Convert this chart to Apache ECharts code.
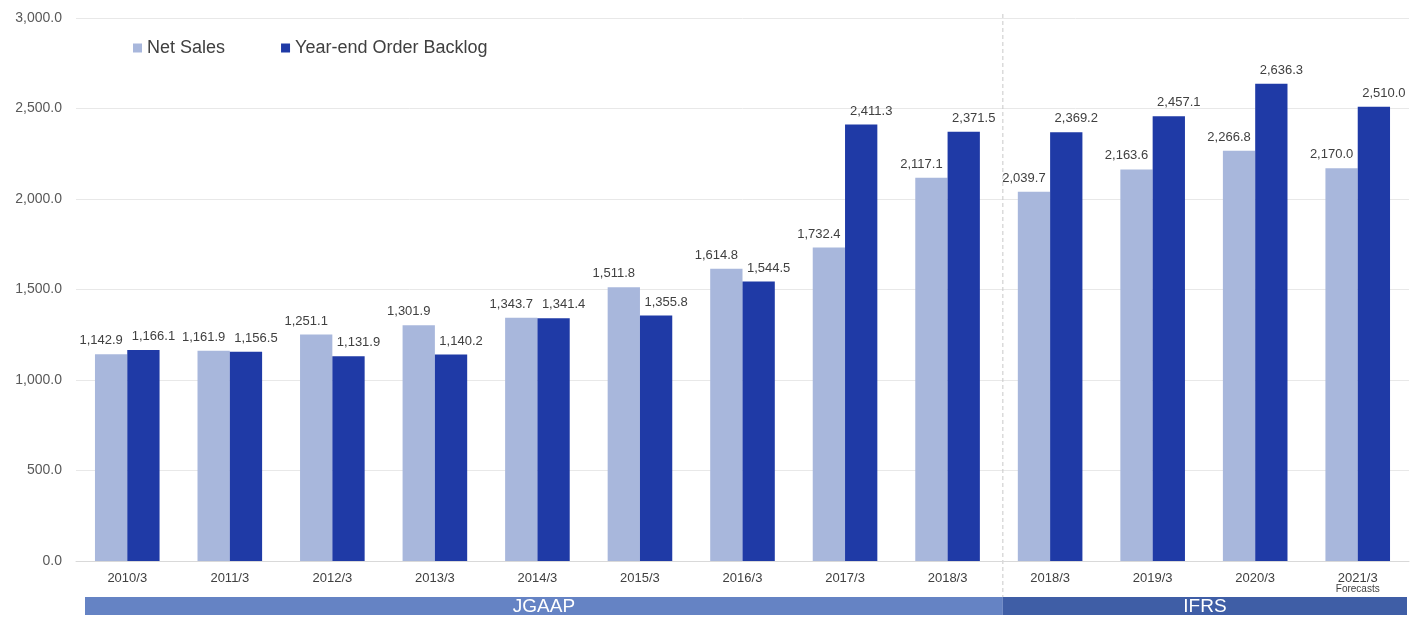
<!DOCTYPE html>
<html>
<head>
<meta charset="utf-8">
<script src="https://cdn.jsdelivr.net/npm/echarts@6/dist/echarts.min.js"></script>
<style>
html,body{margin:0;padding:0;background:#fff;}
#chart{width:1421px;height:621px;}
</style>
</head>
<body>
<div id="chart"></div>
<script>
// ---- data ----
const categories = ['2010/3','2011/3','2012/3','2013/3','2014/3','2015/3','2016/3','2017/3','2018/3','2018/3 IFRS','2019/3','2020/3','2021/3'];
const netSales = [1142.9,1161.9,1251.1,1301.9,1343.7,1511.8,1614.8,1732.4,2117.1,2039.7,2163.6,2266.8,2170.0];
const orderBacklog = [1166.1,1156.5,1131.9,1140.2,1341.4,1355.8,1544.5,2411.3,2371.5,2369.2,2457.1,2636.3,2510.0];
const yTicks = [0,500,1000,1500,2000,2500,3000];
const bandNames = ['JGAAP','IFRS'];
const bandStart = [0, 9];
const bandEnd = [8, 12];
const forecastCategory = '2021/3';

const fmt = v => Number(v).toLocaleString('en-US',{minimumFractionDigits:1,maximumFractionDigits:1});

const chart = echarts.init(document.getElementById('chart'));
const font = 'Liberation Sans, Arial, sans-serif';
const option = {
  animation:false,
  textStyle:{fontFamily:font},
  legend:{
    left:128, top:34,
    itemWidth:9, itemHeight:9, itemGap:56,
    icon:'rect',
    textStyle:{fontSize:18,color:'#404040',fontFamily:font},
    data:['Net Sales','Year-end Order Backlog']
  },
  grid:{left:76,right:12,top:18,bottom:60,containLabel:false},
  xAxis:{
    type:'category',
    data:categories,
    axisLine:{lineStyle:{color:'#d9d9d9'}},
    axisTick:{show:false},
    axisLabel:{
      interval:0,
      color:'#404040',fontSize:13,fontFamily:font,margin:11,
      formatter:v=>{
        const s=v.split(' ')[0];
        return s===forecastCategory ? s+'\n{f|Forecasts}' : s;
      },
      rich:{f:{fontSize:10,color:'#404040',fontFamily:font,lineHeight:9}}
    }
  },
  yAxis:{
    type:'value',min:yTicks[0],max:yTicks[yTicks.length-1],interval:500,
    axisLine:{show:false},axisTick:{show:false},
    splitLine:{lineStyle:{color:'#e8e8e8'}},
    axisLabel:{color:'#595959',fontSize:14,fontFamily:font,margin:14,formatter:v=>fmt(v)}
  },
  series:[
    {name:'Net Sales',type:'bar',data:netSales,barGap:'0%',barCategoryGap:'37%',
     itemStyle:{color:'#a8b7dc'},
     label:{show:true,position:'top',distance:7,offset:[-10,0],color:'#404040',fontSize:13,fontFamily:font,formatter:p=>fmt(p.value)}},
    {name:'Year-end Order Backlog',type:'bar',data:orderBacklog,barGap:'0%',barCategoryGap:'37%',
     itemStyle:{color:'#1f3aa6'},
     label:{show:true,position:'top',distance:7,offset:[10,0],color:'#404040',fontSize:13,fontFamily:font,formatter:p=>fmt(p.value)}}
  ]
};
chart.setOption(option);

function addGraphics(){
  const c0 = chart.convertToPixel({xAxisIndex:0},0);
  const c1 = chart.convertToPixel({xAxisIndex:0},1);
  const step = c1-c0;
  const yTop = chart.convertToPixel({yAxisIndex:0},yTicks[yTicks.length-1]);
  const bandColors = ['#6583c4','#3f5ea6'];
  const bandY = 597, bandH = 18;
  const split = chart.convertToPixel({xAxisIndex:0},bandStart[1]) - step/2 + 4;
  const els = [];
  bandNames.forEach((name,i)=>{
    let x0 = chart.convertToPixel({xAxisIndex:0},bandStart[i]) - step/2;
    let x1 = chart.convertToPixel({xAxisIndex:0},bandEnd[i]) + step/2;
    if(i===0){ x0 += 9; x1 = split; } else { x0 = split; x1 -= 2; }
    els.push({type:'rect',shape:{x:x0,y:bandY,width:x1-x0,height:bandH},style:{fill:bandColors[i]},silent:true});
    els.push({type:'text',x:(x0+x1)/2,y:bandY+bandH/2+1,style:{text:name,fill:'#ffffff',fontSize:19,fontFamily:font,align:'center',verticalAlign:'middle'},silent:true});
  });
  els.push({type:'line',shape:{x1:split,y1:yTop-4,x2:split,y2:bandY},style:{stroke:'#c8c8c8',lineWidth:1,lineDash:[4,3]},silent:true});
  chart.setOption({graphic:els});
}
addGraphics();
</script>
</body>
</html>
